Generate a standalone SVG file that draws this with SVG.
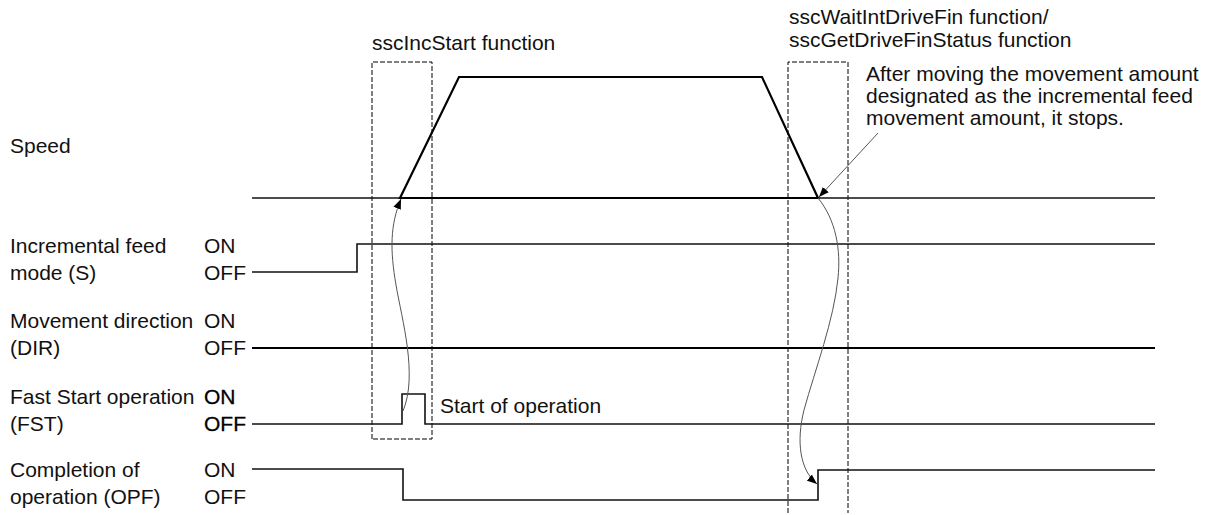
<svg xmlns="http://www.w3.org/2000/svg" width="1215" height="515" viewBox="0 0 1215 515">
<style>
text{font-family:"Liberation Sans",Arial,sans-serif;font-size:21px;fill:#111}
.b{fill:#000;stroke:#000;stroke-width:0.3}
.sig{fill:none;stroke:#111;stroke-width:1.6}
.thick{fill:none;stroke:#000;stroke-width:2.2}
.dash{fill:none;stroke:#000;stroke-width:1;stroke-dasharray:5,2}
.conn{fill:none;stroke:#555;stroke-width:1}
</style>
<defs>
<marker id="ah" markerWidth="10" markerHeight="8" refX="10" refY="4" orient="auto" markerUnits="userSpaceOnUse">
<path d="M0,0 L10,4 L0,8 Z" fill="#000"/>
</marker>
</defs>
<rect width="1215" height="515" fill="#fff"/>

<g id="func-labels">
<text x="372" y="50">sscIncStart function</text>
<text x="789" y="24">sscWaitIntDriveFin function/</text>
<text x="789" y="47">sscGetDriveFinStatus function</text>
</g>
<g id="note">
<text x="866" y="81">After moving the movement amount</text>
<text x="866" y="103">designated as the incremental feed</text>
<text x="866" y="125">movement amount, it stops.</text>
</g>

<g id="boxes">
<path class="dash" d="M372,439 V62 H432 V439 H372"/>
<path class="dash" d="M788,513 V62 H848 V513"/>
</g>

<g id="speed">
<text x="10" y="153">Speed</text>
<line class="sig" x1="252" y1="198" x2="1155" y2="198"/>
<path class="thick" d="M400,198 L459,77 H762 L818,198 Z"/>
</g>

<g id="incremental-feed">
<text x="10" y="253">Incremental feed</text>
<text x="10" y="280">mode (S)</text>
<text x="204" y="253">ON</text>
<text x="204" y="280">OFF</text>
<path class="sig" d="M252,272 H357 V244 H1155"/>
</g>

<g id="movement-direction">
<text x="10" y="328">Movement direction</text>
<text x="10" y="355">(DIR)</text>
<text x="204" y="328">ON</text>
<text x="204" y="355">OFF</text>
<line class="thick" x1="252" y1="348" x2="1155" y2="348"/>
</g>

<g id="fast-start">
<text x="10" y="404">Fast Start operation</text>
<text x="10" y="431">(FST)</text>
<text class="b" x="204" y="404">ON</text>
<text class="b" x="204" y="431">OFF</text>
<path class="sig" d="M252,424 H402 V394 H425 V424 H1155"/>
<text x="440" y="413">Start of operation</text>
</g>

<g id="completion">
<text x="10" y="477">Completion of</text>
<text x="10" y="504">operation (OPF)</text>
<text x="204" y="477">ON</text>
<text x="204" y="504">OFF</text>
<path class="sig" d="M252,469 H403 V500 H818 V470 H1155"/>
</g>

<g id="connectors">
<path class="conn" d="M403,411 C418,375 402,320 396,285 C390,250 390,225 401,199" marker-end="url(#ah)"/>
<path class="conn" d="M818,198 C836,220 841,250 838,278 C834,320 815,370 804,410 C796,442 800,470 817,484" marker-end="url(#ah)"/>
<path class="conn" d="M878,133 L819,197" marker-end="url(#ah)"/>
</g>
</svg>
